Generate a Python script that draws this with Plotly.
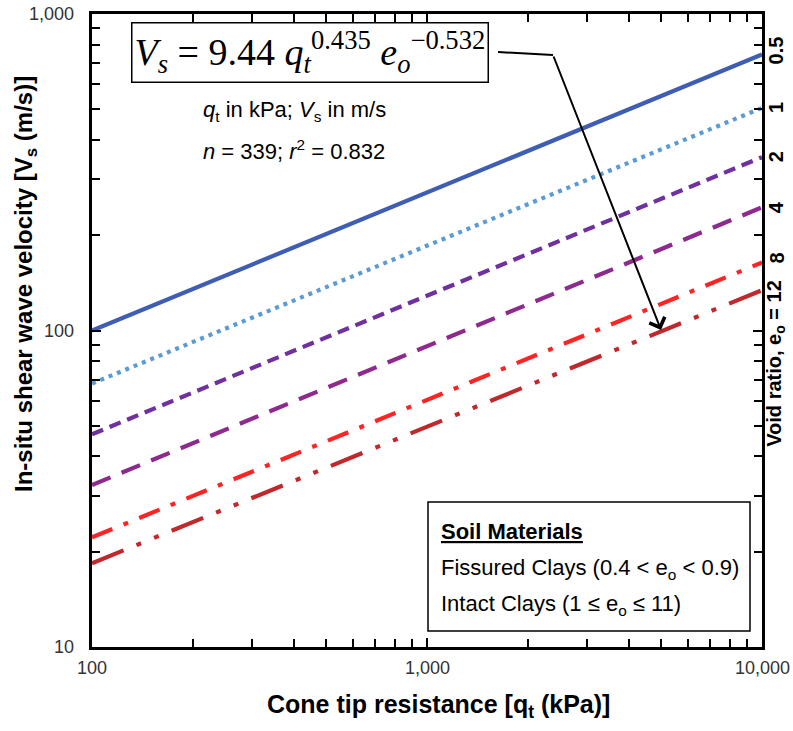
import math
import plotly.graph_objects as go

# Data
qt_ends = [100, 10000]                        # cone tip resistance, kPa (line end points)
void_ratios = ["0.5", "1", "2", "4", "8", "12"]
vs_at_100 = [100, 68, 47, 32.5, 22.2, 18.4]   # Vs (m/s) at qt = 100 kPa
vs_at_10000 = [745, 505, 353, 245, 164, 134]  # Vs (m/s) at qt = 10,000 kPa
x_tick_vals = [100, 1000, 10000]
x_tick_text = ["100", "1,000", "10,000"]
y_tick_vals = [10, 100, 1000]
y_tick_text = ["10", "100", "1,000"]

colors = ["#3F5DB3", "#5B9BD5", "#7030A0", "#8E2A8E", "#FF2424", "#C0282C"]
dashes = ["solid", "4px,5px", "12px,7px", "20px,12px", "22px,12px,5px,12px",
          "34px,14px,5px,14px,5px,14px"]

L, R, T, B = 92, 31, 14, 84
W, H = 793, 731
PW, PH = W - L - R, H - T - B

def px(x):
    return (x - L) / PW

def py(y):
    return (H - B - y) / PH

fig = go.Figure()
for i, e in enumerate(void_ratios):
    fig.add_trace(go.Scatter(
        x=qt_ends, y=[vs_at_100[i], vs_at_10000[i]], mode="lines",
        line=dict(color=colors[i], width=4.2, dash=dashes[i]),
        name="e = " + e, showlegend=False, hoverinfo="skip"))

axis_common = dict(
    type="log", showline=True, linewidth=3, linecolor="black", mirror="ticks",
    ticks="inside", ticklen=9, tickwidth=2, tickcolor="black",
    showgrid=False, zeroline=False, showticklabels=False, automargin=False,
    minor=dict(dtick="D1", ticks="inside", ticklen=8, tickwidth=2,
               tickcolor="black", showgrid=False),
)
fig.update_xaxes(range=[2, 4], tickvals=x_tick_vals, **axis_common)
fig.update_yaxes(range=[1, 3], tickvals=y_tick_vals, **axis_common)

sans = "Liberation Sans, Arial, sans-serif"
tick_font = dict(family=sans, size=18, color="#333333")

# Tick labels
for v, t in zip(x_tick_vals, x_tick_text):
    fig.add_annotation(xref="x", yref="paper", x=math.log10(v), y=py(668),
                       xanchor="center", yanchor="middle", text=t,
                       showarrow=False, font=tick_font)
for v, t in zip(y_tick_vals, y_tick_text):
    fig.add_annotation(xref="paper", yref="y", x=px(76), y=math.log10(v),
                       xanchor="right", yanchor="middle", text=t,
                       showarrow=False, font=tick_font)

# Axis titles
fig.add_annotation(xref="paper", yref="paper", x=px(438), y=py(706),
                   xanchor="center", yanchor="middle",
                   text="<b>Cone tip resistance [q<sub>t</sub> (kPa)]</b>",
                   showarrow=False, font=dict(family=sans, size=25, color="black"))
fig.add_annotation(xref="paper", yref="paper", x=px(25), y=py(284),
                   xanchor="center", yanchor="middle", textangle=-90,
                   text="<b>In-situ shear wave velocity [V<sub>s</sub> (m/s)]</b>",
                   showarrow=False, font=dict(family=sans, size=24, color="black"))

ann_font = dict(family=sans, size=22, color="black")

# Equation box
fig.add_annotation(
    xref="paper", yref="paper", x=px(310), y=py(53), xanchor="center", yanchor="middle",
    text="<i>V<sub>s</sub></i> = 9.44 <i>q<sub>t</sub></i><sup>0.435</sup> <i>e<sub>o</sub></i><sup>\u22120.532</sup>",
    showarrow=False, bordercolor="black", borderwidth=1.5, borderpad=2, bgcolor="white",
    font=dict(family="Liberation Serif, Times New Roman, serif", size=38, color="black"))

fig.add_annotation(
    xref="paper", yref="paper", x=px(201), y=py(111), xanchor="left", yanchor="middle",
    text="<i>q</i><sub>t</sub> in kPa; <i>V</i><sub>s</sub> in m/s",
    showarrow=False, font=ann_font)
fig.add_annotation(
    xref="paper", yref="paper", x=px(201), y=py(150), xanchor="left", yanchor="middle",
    text="<i>n</i> = 339; <i>r</i><sup>2</sup> = 0.832",
    showarrow=False, font=ann_font)

# connector from box to arrow
fig.add_shape(type="line", xref="paper", yref="paper",
              x0=px(498), y0=py(52), x1=px(553), y1=py(55),
              line=dict(color="black", width=2))
fig.add_annotation(
    xref="paper", yref="paper", x=px(661), y=py(330), axref="pixel", ayref="pixel",
    ax=553 - 661, ay=55 - 330, showarrow=True, arrowhead=4, arrowsize=1.6,
    arrowwidth=2, arrowcolor="black", text="")

# Right side void ratio labels
lab_font = dict(family=sans, size=20, color="black")
for i, e in enumerate(void_ratios[:-1]):
    fig.add_annotation(
        xref="paper", yref="y", x=px(776), y=math.log10(vs_at_10000[i]),
        yshift=(4 if e == "0.5" else 0) + (4 if e == "8" else 0),
        text="<b>" + e + "</b>", textangle=-90, showarrow=False, font=lab_font,
        xanchor="center", yanchor="middle")
fig.add_annotation(
    xref="paper", yref="y", x=px(776), y=math.log10(vs_at_10000[-1]), yshift=12,
    text="<b>Void ratio, e<sub>o</sub> = 12</b>", textangle=-90, showarrow=False,
    font=lab_font, xanchor="center", yanchor="top")

# Legend box (Soil Materials)
fig.add_shape(type="rect", xref="paper", yref="paper",
              x0=px(428), y0=py(631), x1=px(750), y1=py(502),
              line=dict(color="black", width=1.5), fillcolor="white", layer="above")
fig.add_annotation(xref="paper", yref="paper", x=px(439), y=py(531), xanchor="left",
                   yanchor="middle", text="<b><u>Soil Materials</u></b>",
                   showarrow=False, font=ann_font)
fig.add_annotation(xref="paper", yref="paper", x=px(439), y=py(569), xanchor="left",
                   yanchor="middle", text="Fissured Clays (0.4 < e<sub>o</sub> < 0.9)",
                   showarrow=False, font=ann_font)
fig.add_annotation(xref="paper", yref="paper", x=px(439), y=py(605), xanchor="left",
                   yanchor="middle", text="Intact Clays (1 \u2264 e<sub>o</sub> \u2264 11)",
                   showarrow=False, font=ann_font)

fig.update_layout(width=W, height=H, margin=dict(l=L, r=R, t=T, b=B, autoexpand=False),
                  plot_bgcolor="white", paper_bgcolor="white", showlegend=False)

fig.write_html("out.html")
